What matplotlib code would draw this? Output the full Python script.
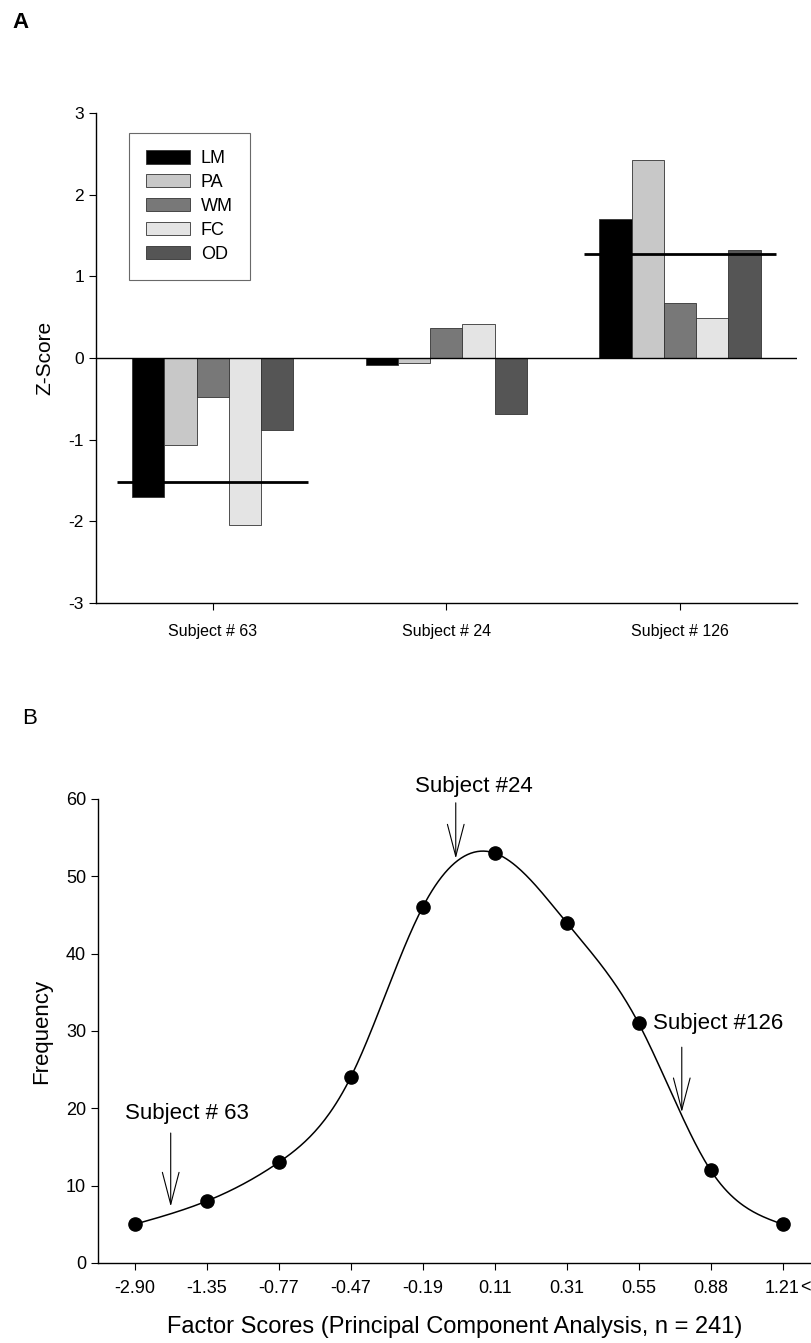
import numpy as np
import matplotlib
matplotlib.use('Agg')
import matplotlib.pyplot as plt
from matplotlib.patches import Patch

plt.rcParams.update({
    'font.family': ['Liberation Sans', 'DejaVu Sans'],
    'axes.linewidth': 1.0,
    'axes.unicode_minus': False,
    'xtick.direction': 'out',
    'ytick.direction': 'out',
})

# Panel A data: z-scores per subject
subjects = ['Subject # 63', 'Subject # 24', 'Subject # 126']
measures = ['LM', 'PA', 'WM', 'FC', 'OD']
lm = [-1.70, -0.08, 1.70]
pa = [-1.06, -0.06, 2.42]
wm = [-0.48, 0.37, 0.67]
fc = [-2.05, 0.42, 0.49]
od = [-0.88, -0.68, 1.32]
composite = [-1.52, None, 1.28]
bar_colors = ['#000000', '#c8c8c8', '#787878', '#e4e4e4', '#555555']

# Panel B data: frequency distribution of factor scores
score_labels = ['-2.90', '-1.35', '-0.77', '-0.47', '-0.19', '0.11', '0.31', '0.55', '0.88', '1.21']
frequency = [5, 8, 13, 24, 46, 53, 44, 31, 12, 5]
marker_subjects = ['Subject # 63', 'Subject #24', 'Subject #126']
marker_pos = [0.5, 4.46, 7.6]
marker_freq = [7.3, 52.3, 19.5]
arrow_len = [9.5, 7.2, 8.4]


def natural_spline(x, y, xs):
    x = np.asarray(x, float)
    y = np.asarray(y, float)
    n = len(x)
    h = np.diff(x)
    A = np.zeros((n, n))
    b = np.zeros(n)
    A[0, 0] = A[-1, -1] = 1
    for i in range(1, n - 1):
        A[i, i - 1] = h[i - 1]
        A[i, i] = 2 * (h[i - 1] + h[i])
        A[i, i + 1] = h[i]
        b[i] = 3 * ((y[i + 1] - y[i]) / h[i] - (y[i] - y[i - 1]) / h[i - 1])
    c = np.linalg.solve(A, b)
    out = np.empty_like(xs)
    for k, xv in enumerate(xs):
        i = min(max(np.searchsorted(x, xv) - 1, 0), n - 2)
        dx = xv - x[i]
        bb = (y[i + 1] - y[i]) / h[i] - h[i] * (2 * c[i] + c[i + 1]) / 3
        d = (c[i + 1] - c[i]) / (3 * h[i])
        out[k] = y[i] + bb * dx + c[i] * dx ** 2 + d * dx ** 3
    return out


fig = plt.figure(figsize=(8.12, 13.43), dpi=100)

# ---------------- Panel A ----------------
axA = fig.add_axes([0.118, 0.551, 0.8633, 0.3648])
x = np.arange(len(subjects))
width = 0.138
series = [lm, pa, wm, fc, od]
for i, (vals, col) in enumerate(zip(series, bar_colors)):
    axA.bar(x + (i - 2) * width, vals, width, color=col, edgecolor='#333333',
            linewidth=0.6, label=measures[i], zorder=2)

for xi, c in zip(x, composite):
    if c is not None:
        axA.hlines(c, xi - 0.41, xi + 0.41, color='black', linewidth=2, zorder=3)

axA.axhline(0, color='black', linewidth=1.0, zorder=3)
axA.set_xlim(-0.5, 2.5)
axA.set_ylim(-3, 3)
axA.set_yticks([-3, -2, -1, 0, 1, 2, 3])
axA.set_xticks(x)
axA.set_xticklabels(subjects)
axA.tick_params(axis='x', labelsize=11.5, length=5, pad=10)
axA.tick_params(axis='y', labelsize=12.5, length=5)
axA.spines['top'].set_visible(False)
axA.spines['right'].set_visible(False)
axA.set_ylabel('Z-Score', fontsize=15, labelpad=10)

handles = [Patch(facecolor=c, edgecolor='#333333', linewidth=0.6, label=m)
           for c, m in zip(bar_colors, measures)]
leg = axA.legend(handles=handles, loc='upper left', bbox_to_anchor=(0.047, 0.959),
                 borderaxespad=0, fontsize=13, frameon=True, fancybox=False,
                 edgecolor='#444444', handlelength=2.45, handleheight=0.75,
                 labelspacing=0.38, borderpad=0.95, handletextpad=0.6)
leg.get_frame().set_linewidth(0.8)

fig.text(0.015, 0.983, 'A', fontsize=16, fontweight='bold', va='center')

# ---------------- Panel B ----------------
axB = fig.add_axes([0.1207, 0.0596, 0.976, 0.3455])
pos = np.arange(len(frequency))
xs = np.linspace(0, len(frequency) - 1, 400)
axB.plot(xs, natural_spline(pos, frequency, xs), color='black', linewidth=1.1)
axB.plot(pos, frequency, 'o', color='black', markersize=9.5, zorder=3)

axB.set_xlim(-0.51, 10.5)
axB.set_ylim(0, 60)
axB.set_yticks(range(0, 61, 10))
axB.set_xticks(pos)
axB.set_xticklabels(score_labels)
axB.tick_params(labelsize=13, length=5)
axB.tick_params(axis='x', pad=7)
axB.spines['top'].set_visible(False)
axB.spines['right'].set_visible(False)
axB.annotate('<=', xy=(9.24, 0), xycoords='data', xytext=(0, -12),
             textcoords='offset points', fontsize=13, ha='left', va='top',
             annotation_clip=False)
axB.set_xlabel('Factor Scores (Principal Component Analysis, n = 241)',
               fontsize=17, labelpad=10)
axB.xaxis.set_label_coords(0.4505, -0.115)
axB.set_ylabel('Frequency', fontsize=16, labelpad=10)

text_offsets = [(0.23, 12.0), (0.25, 9.3), (-0.4, 11.5)]
text_ha = ['center', 'center', 'left']
for name, px, py, ln, (dx, dy), ha in zip(marker_subjects, marker_pos, marker_freq,
                                          arrow_len, text_offsets, text_ha):
    axB.annotate('', xy=(px, py), xytext=(px, py + ln),
                 arrowprops=dict(arrowstyle='->,head_length=2.3,head_width=0.6',
                                 color='black', lw=0.8, shrinkA=0, shrinkB=0),
                 annotation_clip=False)
    axB.text(px + dx, py + dy, name, fontsize=16, ha=ha, va='center', clip_on=False)

fig.text(0.027, 0.465, 'B', fontsize=16, va='center')

fig.savefig('out.png', dpi=100)
